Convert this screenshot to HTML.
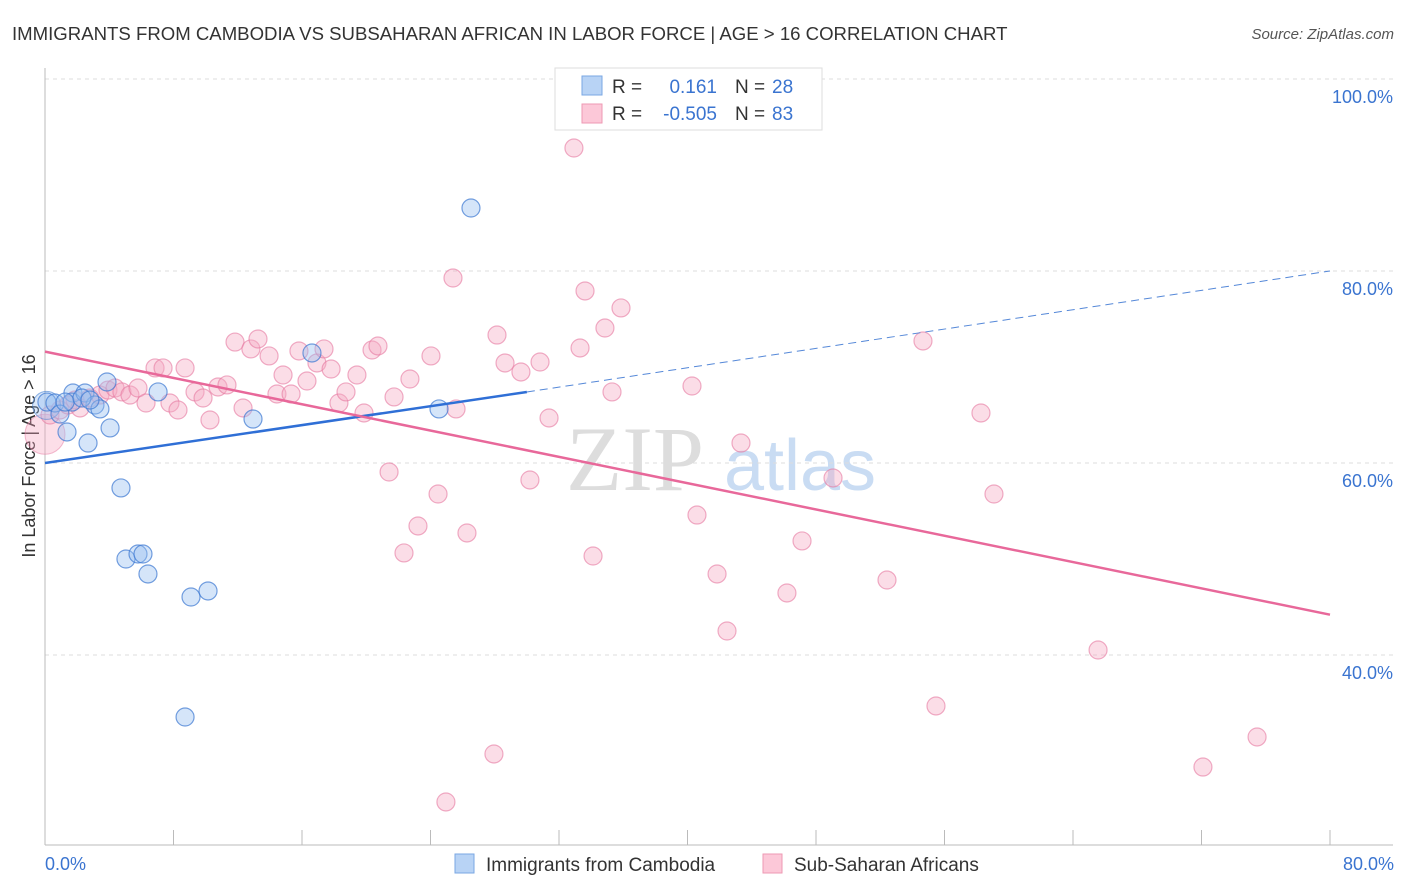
<!DOCTYPE html>
<html><head><meta charset="utf-8"><style>
body{margin:0;background:#fff;font-family:"Liberation Sans",sans-serif;}
svg{display:block}
</style></head><body>
<svg id="c" width="1406" height="892">
<text x="12" y="40" font-size="18.6" fill="#333">IMMIGRANTS FROM CAMBODIA VS SUBSAHARAN AFRICAN IN LABOR FORCE | AGE &gt; 16 CORRELATION CHART</text>
<text x="1394" y="39" font-size="15" fill="#555" font-style="italic" text-anchor="end">Source: ZipAtlas.com</text>
<text x="35" y="456" font-size="18" fill="#333" text-anchor="middle" transform="rotate(-90 35 456)">In Labor Force | Age &gt; 16</text>
<g><text x="635" y="490" font-size="92" fill="#ddd" font-family="Liberation Serif,serif" text-anchor="middle">ZIP</text><text x="800" y="490" font-size="72" fill="#c9dcf3" text-anchor="middle">atlas</text></g>
<g id="grid"></g><g id="pink"></g><g id="blue"></g><g id="lines"></g>
<g>
<rect x="555" y="68" width="267" height="62" fill="#fff" stroke="#ddd"/>
<rect x="582" y="76" width="20" height="19" fill="#b8d3f5" stroke="#7aa7e3"/>
<rect x="582" y="104" width="20" height="19" fill="#fcc8d8" stroke="#ee99b3"/>
<text x="612" y="93" font-size="19" fill="#333">R =</text><text x="717" y="93" font-size="19" fill="#3a74d0" text-anchor="end">0.161</text>
<text x="735" y="93" font-size="19" fill="#333">N =</text><text x="772" y="93" font-size="19" fill="#3a74d0">28</text>
<text x="612" y="120" font-size="19" fill="#333">R =</text><text x="717" y="120" font-size="19" fill="#3a74d0" text-anchor="end">-0.505</text>
<text x="735" y="120" font-size="19" fill="#333">N =</text><text x="772" y="120" font-size="19" fill="#3a74d0">83</text>
</g>
<g>
<rect x="455" y="854" width="19" height="19" fill="#b8d3f5" stroke="#7aa7e3"/>
<text x="486" y="871" font-size="19" fill="#333">Immigrants from Cambodia</text>
<rect x="763" y="854" width="19" height="19" fill="#fcc8d8" stroke="#ee99b3"/>
<text x="794" y="871" font-size="19" fill="#333">Sub-Saharan Africans</text>
</g>
<text x="45" y="870" font-size="18" fill="#3a74d0">0.0%</text>
<text x="1394" y="870" font-size="18" fill="#3a74d0" text-anchor="end">80.0%</text>
</svg>
<script>
const yTicks=[100,80,60,40];
const xTicks=[0,8,16,24,32,40,48,56,64,72,80];
const bluePx=[[47,402],[55,403],[60,414],[67,432],[73,393],[72,402],[85,393],[88,443],[95,405],[100,409],[107,382],[110,428],[121,488],[126,559],[138,554],[143,554],[148,574],[158,392],[191,597],[208,591],[185,717],[253,419],[312,353],[439,409],[471,208],[65,402],[82,398],[90,400]];
const pinkPx=[[50,415],[60,410],[68,405],[75,400],[80,408],[90,398],[100,395],[108,390],[115,388],[122,392],[130,395],[138,388],[146,403],[155,368],[163,368],[170,403],[178,410],[185,368],[195,392],[203,398],[210,420],[218,387],[227,385],[235,342],[243,408],[251,349],[258,339],[269,356],[277,394],[283,375],[291,394],[299,351],[307,381],[317,363],[324,349],[331,369],[339,403],[346,392],[357,375],[364,413],[372,350],[378,346],[389,472],[394,397],[404,553],[410,379],[418,526],[431,356],[438,494],[453,278],[456,409],[467,533],[494,754],[497,335],[505,363],[521,372],[530,480],[540,362],[549,418],[574,148],[585,291],[593,556],[580,348],[605,328],[612,392],[621,308],[697,515],[692,386],[717,574],[727,631],[741,443],[787,593],[802,541],[833,478],[887,580],[923,341],[936,706],[981,413],[994,494],[1098,650],[1203,767],[1257,737],[446,802]];
const blueX=bluePx.map(p=>+((p[0]-45)/16.0625).toFixed(2));
const blueY=bluePx.map(p=>+((1039-p[1])/9.6).toFixed(2));
const pinkX=pinkPx.map(p=>+((p[0]-45)/16.0625).toFixed(2));
const pinkY=pinkPx.map(p=>+((1039-p[1])/9.6).toFixed(2));
const blueFit=[[0,60.0],[30,67.4],[80,80.0]];
const pinkFit=[[0,71.6],[80,44.2]];
const X=v=>45+v*16.0625, Y=v=>1039-v*9.6;
const NS="http://www.w3.org/2000/svg";
function mk(t,a,p){const e=document.createElementNS(NS,t);for(const k in a)e.setAttribute(k,a[k]);p.appendChild(e);return e;}
const g=document.getElementById('grid');
yTicks.forEach(v=>{const l=mk('line',{x1:45,x2:1393,y1:Y(v),y2:Y(v),stroke:'#ddd','stroke-dasharray':'4,4'},g);


const t=mk('text',{x:1393,y:Y(v)+24,'font-size':18,fill:'#3a74d0','text-anchor':'end'},g);t.textContent=v.toFixed(1)+'%';

});
mk('line',{x1:45,x2:45,y1:68,y2:845,stroke:'#bbb'},g);
mk('line',{x1:45,x2:1393,y1:845,y2:845,stroke:'#bbb'},g);
xTicks.forEach(v=>{const l=mk('line',{x1:X(v),x2:X(v),y1:830,y2:845,stroke:'#bbb'},g);

});
const pg=document.getElementById('pink');
const big=mk('circle',{cx:X(0),cy:Y(63),r:20,fill:'rgba(246,160,188,0.35)',stroke:'rgba(230,120,160,0.5)'},pg);


pinkX.forEach((x,i)=>{const c=mk('circle',{cx:X(x),cy:Y(pinkY[i]),r:9,fill:'rgba(246,170,196,0.4)',stroke:'rgba(230,120,160,0.6)','stroke-width':1.2},pg);

});
const bg=document.getElementById('blue');
const bb=mk('circle',{cx:X(0.1),cy:Y(66),r:14,fill:'rgba(150,190,240,0.35)',stroke:'rgba(70,130,210,0.6)'},bg);


blueX.forEach((x,i)=>{const c=mk('circle',{cx:X(x),cy:Y(blueY[i]),r:9,fill:'rgba(150,190,240,0.4)',stroke:'rgba(60,120,210,0.7)','stroke-width':1.2},bg);

});
const lg=document.getElementById('lines');
const b1=mk('line',{x1:X(blueFit[0][0]),y1:Y(blueFit[0][1]),x2:X(blueFit[1][0]),y2:Y(blueFit[1][1]),stroke:'#2f6fd6','stroke-width':2.5},lg);


const b2=mk('line',{x1:X(blueFit[1][0]),y1:Y(blueFit[1][1]),x2:X(blueFit[2][0]),y2:Y(blueFit[2][1]),stroke:'#5588d8','stroke-width':1,'stroke-dasharray':'8,5'},lg);


const p1=mk('line',{x1:X(pinkFit[0][0]),y1:Y(pinkFit[0][1]),x2:X(pinkFit[1][0]),y2:Y(pinkFit[1][1]),stroke:'#e8689a','stroke-width':2.5},lg);


</script>
</body></html>
